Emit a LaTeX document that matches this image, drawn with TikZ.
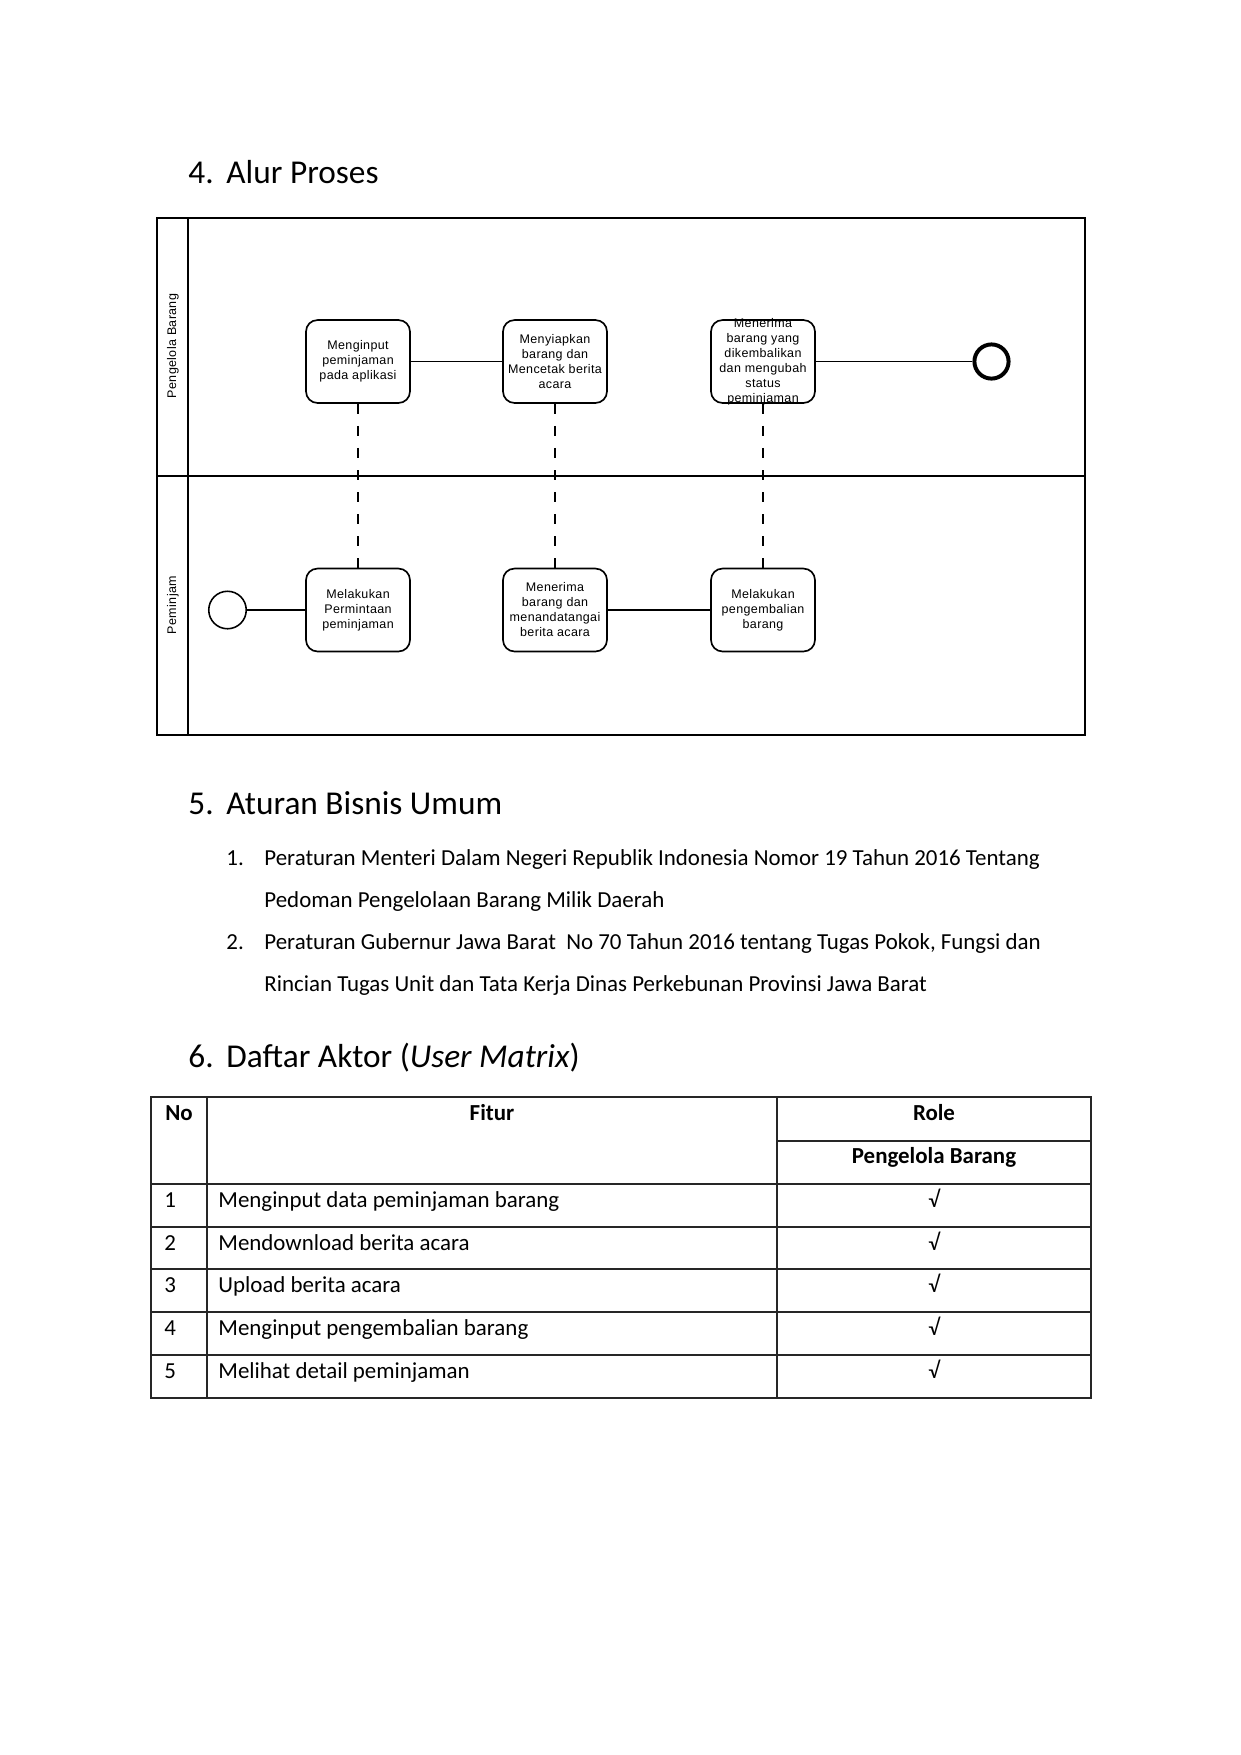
\documentclass[tikz,border=0pt]{standalone}
\usepackage{fontspec}
\setmainfont{Carlito}
\newfontfamily\diagfont[LetterSpace=3]{Liberation Sans}
\begin{document}
\begin{tikzpicture}[x=0.48pt,y=-0.48pt,
  lane/.style={draw=black,line width=0.8pt},
  task/.style={draw=black,line width=0.8pt,rounded corners=5.5pt,minimum width=49.9pt,minimum height=39.8pt,inner sep=0pt,align=center,font=\diagfont\fontsize{6}{7.2}\selectfont},
  tasktext/.style={inner sep=0pt,align=center,font=\diagfont\fontsize{6}{7.2}\selectfont},
  lanelabel/.style={rotate=90,inner sep=0pt,font=\diagfont\fontsize{6}{7.2}\selectfont},
  startev/.style={circle,draw,line width=0.75pt,minimum size=18pt,inner sep=0pt},
  endev/.style={circle,draw,line width=1.9pt,minimum size=16.4pt,inner sep=0pt},
  flow/.style={line width=0.9pt},
  assoc/.style={line width=0.65pt,dash pattern=on 4.8pt off 5.8pt},
  head/.style={anchor=base west,inner sep=0pt,font=\fontsize{16}{19}\selectfont},
  body/.style={anchor=base west,inner sep=0pt,font=\fontsize{11}{13}\selectfont},
  cell/.style={anchor=base,inner sep=0pt,font=\fontsize{11}{13}\selectfont},
  celll/.style={anchor=base west,inner sep=0pt,font=\fontsize{11}{13}\selectfont},
  grid/.style={line width=0.5pt,draw=black!85}
]
\useasboundingbox[fill=white] (0,0) rectangle (1241,1755);

% ---------- heading 4
\node[head] (h4n) at (188,183) {4.};
\node[head] (h4t) at (226,183) {Alur Proses};

% ---------- pool / lanes
\draw[lane] (157,218) rectangle (1085,735);
\draw[lane] (188,218) -- (188,735);
\draw[lane] (157,476) -- (1085,476);
\node[lanelabel] (l1) at (173,346) {Pengelola Barang};
\node[lanelabel] (l2) at (173,605) {Peminjam};

% top lane tasks
\node[task] (t1) at (358,361.5) {Menginput\\peminjaman\\pada aplikasi};
\node[task] (t2) at (555,361.5) {Menyiapkan\\barang dan\\Mencetak berita\\acara};
\node[task] (t3) at (763,361.5) {};
\node[tasktext] (t3txt) at (t3.center) {Menerima\\barang yang\\dikembalikan\\dan mengubah\\status\\peminjaman};
\node[endev] (e1) at (991.5,361.5) {};

% bottom lane tasks
\node[startev] (s1) at (227.5,610) {};
\node[task] (b1) at (358,610) {Melakukan\\Permintaan\\peminjaman};
\node[task] (b2) at (555,610) {Menerima\\barang dan\\menandatangai\\berita acara};
\node[task] (b3) at (763,610) {Melakukan\\pengembalian\\barang};

% flows
\draw[flow] (t1.east) -- (t2.west);
\draw[flow] (t3.east) -- (e1.west);
\draw[flow] (s1.east) -- (b1.west);
\draw[flow] (b2.east) -- (b3.west);
% associations
\draw[assoc] (t1.south) -- (b1.north);
\draw[assoc] (t2.south) -- (b2.north);
\draw[assoc] (t3.south) -- (b3.north);

% ---------- heading 5
\node[head] (h5n) at (188,814) {5.};
\node[head] (h5t) at (226,814) {Aturan Bisnis Umum};
\node[body] (r1n) at (226,865) {1.};
\node[body] (r1a) at (264,865) {Peraturan Menteri Dalam Negeri Republik Indonesia Nomor 19 Tahun 2016 Tentang};
\node[body] (r1b) at (264,907) {Pedoman Pengelolaan Barang Milik Daerah};
\node[body] (r2n) at (226,949) {2.};
\node[body] (r2a) at (264,949) {Peraturan Gubernur Jawa Barat\ \ No 70 Tahun 2016 tentang Tugas Pokok, Fungsi dan};
\node[body] (r2b) at (264,991) {Rincian Tugas Unit dan Tata Kerja Dinas Perkebunan Provinsi Jawa Barat};

% ---------- heading 6
\node[head] (h6n) at (188,1067) {6.};
\node[head] (h6t) at (226,1067) {Daftar Aktor (\textit{User Matrix})};

% ---------- table
\draw[grid] (151,1097) rectangle (1091,1398);
\draw[grid] (207,1097) -- (207,1398);
\draw[grid] (777,1097) -- (777,1398);
\draw[grid] (777,1141) -- (1091,1141);
\foreach \yy in {1184,1227,1269,1312,1355} {\draw[grid] (151,\yy) -- (1091,\yy);}

\node[cell,font=\fontsize{11}{13}\selectfont\bfseries] (hno) at (179,1120) {No};
\node[cell,font=\fontsize{11}{13}\selectfont\bfseries] (hfit) at (492,1120) {Fitur};
\node[cell,font=\fontsize{11}{13}\selectfont\bfseries] (hrole) at (934,1120) {Role};
\node[cell,font=\fontsize{11}{13}\selectfont\bfseries] (hpb) at (934,1163) {Pengelola Barang};

\node[celll] (n1) at (164,1207) {1};
\node[celll] (f1) at (218,1207) {Menginput data peminjaman barang};
\node[cell] (c1) at (934,1207) {√};
\node[celll] (n2) at (164,1250) {2};
\node[celll] (f2) at (218,1250) {Mendownload berita acara};
\node[cell] (c2) at (934,1250) {√};
\node[celll] (n3) at (164,1292) {3};
\node[celll] (f3) at (218,1292) {Upload berita acara};
\node[cell] (c3) at (934,1292) {√};
\node[celll] (n4) at (164,1335) {4};
\node[celll] (f4) at (218,1335) {Menginput pengembalian barang};
\node[cell] (c4) at (934,1335) {√};
\node[celll] (n5) at (164,1378) {5};
\node[celll] (f5) at (218,1378) {Melihat detail peminjaman};
\node[cell] (c5) at (934,1378) {√};
\end{tikzpicture}
\end{document}
